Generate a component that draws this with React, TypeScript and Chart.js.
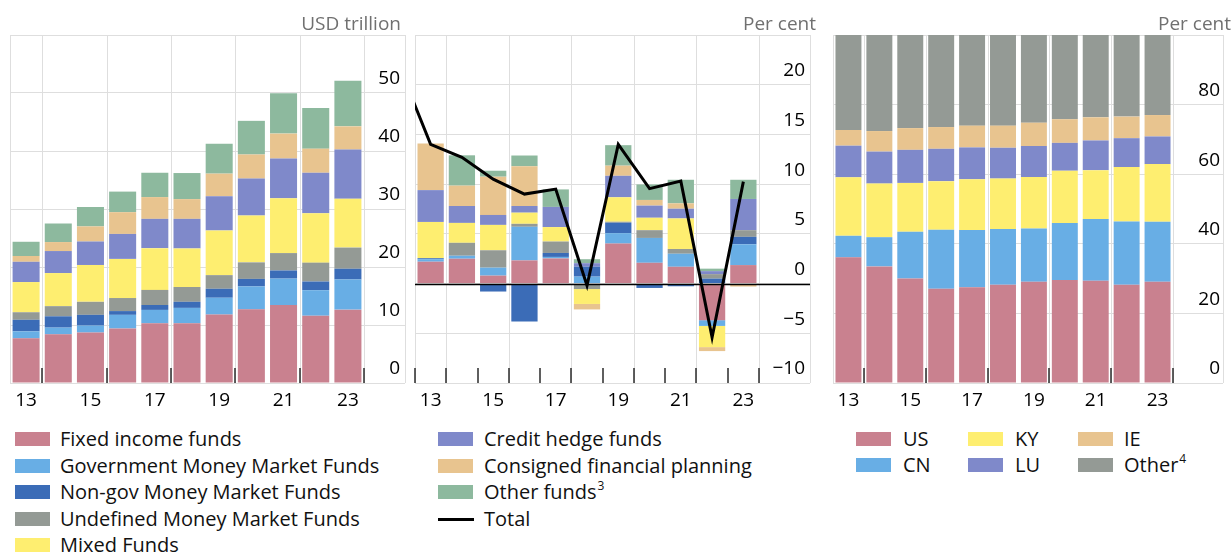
import React, { useEffect, useRef } from 'react';
import { Chart, registerables } from 'chart.js';

Chart.register(...registerables);

const FONT = "'Open Sans', 'Noto Sans', 'DejaVu Sans', sans-serif";
const GRID = '#dedede';

// ---------- categories ----------
const YEARS = ['13', '14', '15', '16', '17', '18', '19', '20', '21', '22', '23'];
const YEARS_WITH_PRIOR = ['12', ...YEARS];

// ---------- colours ----------
const C_PINK = '#C9818F';
const C_LBLUE = '#68AEE5';
const C_DBLUE = '#3B6CB7';
const C_GRAY = '#949A95';
const C_YELLOW = '#FEEE70';
const C_PURPLE = '#7F89CA';
const C_TAN = '#E8C48F';
const C_GREEN = '#8DB99E';

// ---------- left panel: assets, USD trillion ----------
const L_FIXED_INCOME = [7.7, 8.4, 8.7, 9.4, 10.3, 10.3, 11.8, 12.7, 13.45, 11.6, 12.65];
const L_GOV_MMF = [1.2, 1.15, 1.2, 2.35, 2.3, 2.65, 2.9, 3.95, 4.55, 4.4, 5.2];
const L_NONGOV_MMF = [2.0, 1.95, 1.85, 0.65, 0.85, 1.05, 1.55, 1.3, 1.4, 1.5, 1.85];
const L_UNDEF_MMF = [1.3, 1.75, 2.25, 2.25, 2.6, 2.55, 2.35, 2.85, 3.0, 3.25, 3.65];
const L_MIXED = [5.2, 5.7, 6.35, 6.75, 7.2, 6.65, 7.7, 8.1, 9.45, 8.5, 8.4];
const L_CREDIT_HEDGE = [3.5, 3.8, 4.05, 4.3, 5.05, 5.1, 5.9, 6.35, 6.85, 7.0, 8.5];
const L_CONSIGNED = [1.0, 1.55, 2.6, 3.75, 3.75, 3.4, 3.9, 4.15, 4.3, 4.15, 4.0];
const L_OTHER_FUNDS = [2.45, 3.2, 3.35, 3.55, 4.2, 4.5, 5.15, 5.8, 6.95, 7.0, 7.85];

// ---------- middle panel: growth contributions, per cent (13..23) ----------
const M_FIXED_INCOME = [2.2, 2.5, 0.8, 2.33, 2.53, 0, 4.02, 2.09, 1.69, -3.68, 1.86];
const M_GOV_MMF = [0.25, 0.3, 0.8, 3.38, 0.15, 0.7, 1.05, 2.5, 1.31, -0.58, 2.09];
const M_NONGOV_MMF = [0.1, -0.15, -0.8, -3.82, 0.4, 1.0, 1.05, -0.44, -0.27, 0.5, 0.75];
const M_UNDEF_MMF = [0, 1.3, 1.75, 0.3, 1.15, -0.55, 0.1, 0.78, 0.48, 0.45, 0.67];
const M_MIXED = [3.65, 2.0, 2.55, 1.12, 1.45, -1.5, 2.46, 1.25, 3.07, -2.13, 0];
const M_CREDIT_HEDGE = [3.2, 1.7, 1.0, 0.67, 2.03, 0.35, 2.16, 1.22, 0.98, 0.3, 3.14];
const M_CONSIGNED = [4.7, 2.05, 3.85, 4.0, 0, -0.55, 1.02, 0.57, 0.54, -0.4, -0.3];
const M_OTHER_FUNDS = [0, 3.05, 0.6, 1.08, 1.76, 0.4, 2.06, 1.56, 2.37, 0.25, 1.93];
// total growth, first value is 2012 (only the segment into 2013 is visible)
const M_TOTAL = [21.8, 14.0, 12.7, 10.5, 9.0, 9.5, -0.2, 14.0, 9.55, 10.3, -5.4, 10.25];

// ---------- right panel: shares by domicile, per cent ----------
const R_US = [36.1, 33.5, 30.0, 27.1, 27.5, 28.2, 29.1, 29.6, 29.4, 28.2, 29.1];
const R_CN = [6.2, 8.4, 13.45, 16.95, 16.45, 16.05, 15.3, 16.4, 17.7, 18.2, 17.25];
const R_KY = [16.8, 15.4, 14.05, 13.95, 14.6, 14.5, 14.8, 15.0, 14.05, 15.65, 16.55];
const R_LU = [9.1, 9.2, 9.5, 9.3, 9.15, 8.85, 8.9, 8.0, 8.55, 8.3, 7.95];
const R_IE = [4.5, 5.9, 6.25, 6.25, 6.25, 6.35, 6.7, 6.8, 6.65, 6.2, 6.15];
const R_OTHER = [27.3, 27.6, 26.75, 26.45, 26.05, 26.05, 25.2, 24.2, 23.65, 23.5, 23.0];

const FUND_NAMES = [
  'Fixed income funds',
  'Government Money Market Funds',
  'Non-gov Money Market Funds',
  'Undefined Money Market Funds',
  'Mixed Funds',
  'Credit hedge funds',
  'Consigned financial planning',
  'Other funds',
];
const FUND_COLORS = [C_PINK, C_LBLUE, C_DBLUE, C_GRAY, C_YELLOW, C_PURPLE, C_TAN, C_GREEN];
const DOMICILE_NAMES = ['US', 'CN', 'KY', 'LU', 'IE', 'Other'];
const DOMICILE_COLORS = [C_PINK, C_LBLUE, C_YELLOW, C_PURPLE, C_TAN, C_GRAY];

const LEFT_SERIES = [L_FIXED_INCOME, L_GOV_MMF, L_NONGOV_MMF, L_UNDEF_MMF, L_MIXED, L_CREDIT_HEDGE, L_CONSIGNED, L_OTHER_FUNDS];
const MID_SERIES = [M_FIXED_INCOME, M_GOV_MMF, M_NONGOV_MMF, M_UNDEF_MMF, M_MIXED, M_CREDIT_HEDGE, M_CONSIGNED, M_OTHER_FUNDS];
const RIGHT_SERIES = [R_US, R_CN, R_KY, R_LU, R_IE, R_OTHER];

const decorPlugin = {
  id: 'decor',
  beforeDatasetsDraw(chart: any, _a: any, opts: any) {
    const { ctx, chartArea } = chart;
    const x = chart.scales.x;
    const y = chart.scales.y;
    const lines: number[] = [chartArea.left, y.left + opts.tickLen - 0.5];
    x.ticks.forEach((t: any) => {
      const lbl = x.getLabelForValue(t.value);
      if (Number(lbl) % 2 === 1) lines.push(x.getPixelForValue(t.value + 0.5));
    });
    ctx.save();
    ctx.strokeStyle = GRID;
    ctx.lineWidth = 1;
    ctx.beginPath();
    lines.forEach((px) => {
      const a = Math.round(px) + 0.5;
      ctx.moveTo(a, chartArea.top);
      ctx.lineTo(a, chartArea.bottom);
    });
    ctx.stroke();
    ctx.restore();
  },
  afterDatasetsDraw(chart: any, _a: any, opts: any) {
    const { ctx, chartArea } = chart;
    const x = chart.scales.x;
    const y = chart.scales.y;
    ctx.save();
    if (opts.zeroLine) {
      const py = Math.round(y.getPixelForValue(0)) + 0.5;
      ctx.strokeStyle = '#000';
      ctx.lineWidth = 1.6;
      ctx.beginPath();
      ctx.moveTo(chartArea.left, py);
      ctx.lineTo(y.left + opts.tickLen, py);
      ctx.stroke();
    }
    const marks: number[] = [];
    const n = x.ticks.length;
    x.ticks.forEach((t: any, i: number) => {
      if (opts.allTicks) {
        marks.push(x.getPixelForValue(t.value - 0.5));
        if (i === n - 1) marks.push(x.getPixelForValue(t.value + 0.5));
      } else if (Number(x.getLabelForValue(t.value)) % 2 === 1) {
        marks.push(x.getPixelForValue(t.value + 0.5));
      }
    });
    ctx.strokeStyle = '#2b2b2b';
    ctx.lineWidth = 1.5;
    ctx.beginPath();
    marks.forEach((px) => {
      const a = Math.round(px);
      ctx.moveTo(a, chartArea.bottom - 15);
      ctx.lineTo(a, chartArea.bottom);
    });
    ctx.stroke();
    ctx.restore();
  },
};

const fmt = (v: number) => String(v).replace('-', '\u2212');

function buildOptions(p: {
  min: number; max: number; step: number; axisW: number; tickLen: number;
  padL: number; padR: number; xMin?: string; allTicks: boolean; zeroLine: boolean;
}) {
  return {
    responsive: false,
    animation: false as const,
    events: [] as any[],
    layout: { padding: { left: p.padL, right: p.padR, top: 35, bottom: 7 } },
    plugins: {
      legend: { display: false },
      tooltip: { enabled: false },
      title: { display: false },
      decor: { tickLen: p.tickLen, allTicks: p.allTicks, zeroLine: p.zeroLine },
    },
    scales: {
      x: {
        type: 'category' as const,
        offset: true,
        stacked: true,
        min: p.xMin,
        grid: { display: false, offset: true },
        border: { display: false },
        ticks: {
          autoSkip: false,
          maxRotation: 0,
          padding: -2,
          color: '#000',
          font: { family: FONT, size: 19 },
          callback: function (this: any, v: any) {
            const l = this.getLabelForValue(v);
            return Number(l) % 2 === 1 ? l : '';
          },
        },
        afterFit: (s: any) => { s.height = 30; },
      },
      y: {
        position: 'right' as const,
        stacked: true,
        min: p.min,
        max: p.max,
        grid: { color: GRID, lineWidth: 1, drawTicks: true, tickLength: p.tickLen, tickColor: GRID },
        border: { display: false },
        ticks: {
          stepSize: p.step,
          crossAlign: 'far' as const,
          padding: 0,
          labelOffset: -14,
          color: '#000',
          font: { family: FONT, size: 19 },
          callback: (v: any) => (v === p.max ? '' : fmt(v)),
        },
        afterFit: (s: any) => { s.width = p.axisW; },
      },
    },
  };
}

function barSets(series: number[][], names: string[], colors: string[], prefixNull = false) {
  return series.map((d, i) => ({
    type: 'bar' as const,
    label: names[i],
    data: prefixNull ? [null, ...d] : d,
    backgroundColor: colors[i],
    borderWidth: 0,
    barPercentage: 0.84,
    categoryPercentage: 1,
    order: 1,
  }));
}

function leftConfig(): any {
  return {
    type: 'bar',
    data: { labels: YEARS, datasets: barSets(LEFT_SERIES, FUND_NAMES, FUND_COLORS) },
    options: buildOptions({ min: 0, max: 60, step: 10, axisW: 36, tickLen: 41, padL: 10, padR: 10, allTicks: false, zeroLine: false }),
    plugins: [decorPlugin],
  };
}

function midConfig(): any {
  return {
    type: 'bar',
    data: {
      labels: YEARS_WITH_PRIOR,
      datasets: [
        ...barSets(MID_SERIES, FUND_NAMES, FUND_COLORS, true),
        {
          type: 'line' as const,
          label: 'Total',
          data: M_TOTAL,
          borderColor: '#000',
          borderWidth: 3,
          pointRadius: 0,
          tension: 0,
          fill: false,
          order: 0,
        },
      ],
    },
    options: buildOptions({ min: -10, max: 25, step: 5, axisW: 46, tickLen: 51, padL: 5, padR: 15, xMin: '13', allTicks: true, zeroLine: true }),
    plugins: [decorPlugin],
  };
}

function rightConfig(): any {
  return {
    type: 'bar',
    data: { labels: YEARS, datasets: barSets(RIGHT_SERIES, DOMICILE_NAMES, DOMICILE_COLORS) },
    options: buildOptions({ min: 0, max: 100, step: 20, axisW: 47, tickLen: 50, padL: 13, padR: 12, allTicks: false, zeroLine: false }),
    plugins: [decorPlugin],
  };
}

function ChartCanvas({ left, width, build }: { left: number; width: number; build: () => any }) {
  const ref = useRef<HTMLCanvasElement>(null);
  useEffect(() => {
    const chart = new Chart(ref.current as HTMLCanvasElement, build());
    return () => chart.destroy();
  }, []);
  return (
    <canvas
      ref={ref}
      width={width}
      height={420}
      style={{ position: 'absolute', left, top: 0, width, height: 420 }}
    />
  );
}

function UnitLabel({ text, right }: { text: string; right: number }) {
  return (
    <div
      style={{
        position: 'absolute', right: 1232 - right, top: 10, fontSize: 19, lineHeight: '26px',
        color: '#707070', whiteSpace: 'nowrap', fontFamily: FONT,
      }}
    >
      {text}
    </div>
  );
}

function LegendItem({ x, textX, cy, color, label, sup, line }: {
  x: number; textX: number; cy: number; color: string; label: string; sup?: string; line?: boolean;
}) {
  return (
    <>
      {line ? (
        <div style={{ position: 'absolute', left: x, top: cy - 1.5, width: 36, height: 3, background: '#000' }} />
      ) : (
        <div style={{ position: 'absolute', left: x, top: cy - 7, width: 35, height: 14, background: color }} />
      )}
      <div
        style={{
          position: 'absolute', left: textX, top: cy - 14, height: 28, lineHeight: '28px',
          fontSize: 20, color: '#111', whiteSpace: 'nowrap', fontFamily: FONT,
        }}
      >
        {label}
        {sup ? (
          <span style={{ fontSize: 12, position: 'relative', top: -9, marginLeft: 1 }}>{sup}</span>
        ) : null}
      </div>
    </>
  );
}

export default function App() {
  const rowsL = [439, 466, 492, 519, 545];
  return (
    <div
      style={{
        position: 'absolute', left: 0, top: 0, width: 1232, height: 554, background: '#fff',
        overflow: 'hidden', fontFamily: FONT,
      }}
    >
      <ChartCanvas left={0} width={410} build={leftConfig} />
      <ChartCanvas left={410} width={410} build={midConfig} />
      <ChartCanvas left={820} width={412} build={rightConfig} />

      <UnitLabel text="USD trillion" right={401} />
      <UnitLabel text="Per cent" right={816} />
      <UnitLabel text="Per cent" right={1231} />

      {FUND_NAMES.slice(0, 5).map((n, i) => (
        <LegendItem key={n} x={15} textX={60} cy={rowsL[i]} color={FUND_COLORS[i]} label={n} />
      ))}
      {FUND_NAMES.slice(5).map((n, i) => (
        <LegendItem
          key={n} x={438} textX={484} cy={rowsL[i]} color={FUND_COLORS[i + 5]} label={n}
          sup={n === 'Other funds' ? '3' : undefined}
        />
      ))}
      <LegendItem x={438} textX={484} cy={rowsL[3]} color="#000" label="Total" line />

      {DOMICILE_NAMES.map((n, i) => {
        const col = Math.floor(i / 2);
        const row = i % 2;
        const xs = [856, 968, 1078];
        const txs = [903, 1015, 1124];
        return (
          <LegendItem
            key={n} x={xs[col]} textX={txs[col]} cy={[439, 465][row]} color={DOMICILE_COLORS[i]} label={n}
            sup={n === 'Other' ? '4' : undefined}
          />
        );
      })}
    </div>
  );
}
